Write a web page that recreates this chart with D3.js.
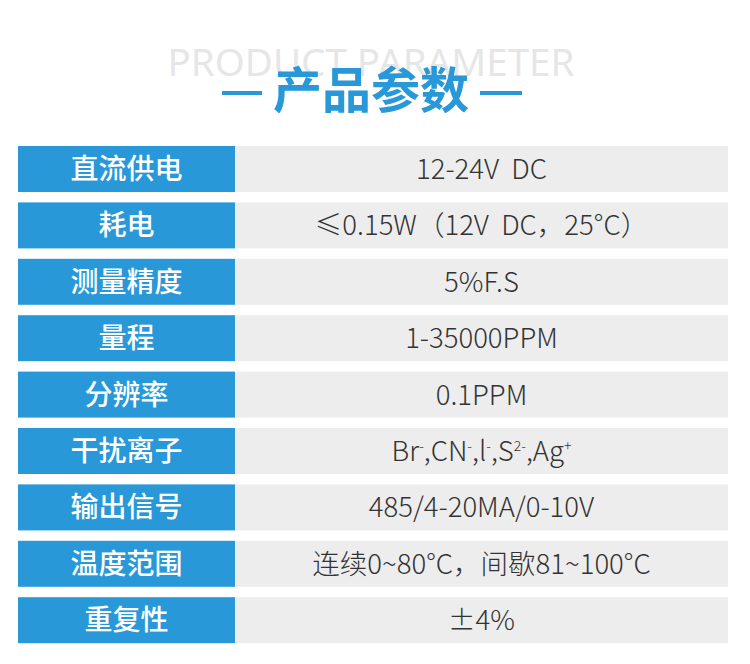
<!DOCTYPE html>
<html>
<head>
<meta charset="utf-8">
<script src="https://cdn.jsdelivr.net/npm/d3@7"></script>
<style>
  html, body { margin: 0; padding: 0; background: #fff; }
  svg { display: block; }
</style>
</head>
<body>
<script>
// table content, one entry per row
const labels = ['直流供电', '耗电', '测量精度', '量程', '分辨率', '干扰离子', '输出信号', '温度范围', '重复性']
const values = [
  '12-24V  DC',
  '≤0.15W（12V  DC，25°C）',
  '5%F.S',
  '1-35000PPM',
  '0.1PPM',
  'Br-,CN-,I-,S2-,Ag+',
  '485/4-20MA/0-10V',
  '连续0~80°C，间歇81~100°C',
  '±4%'
]
// superscript pieces for the interfering ion row
const ions = [['Br', '-'], ['CN', '-'], ['l', '-'], ['S', '2-'], ['Ag', '+']]

const width = 750
const height = 664
const blue = '#2898d8'
const grey = '#ededed'

const svg = d3.select('body')
  .append('svg')
  .attr('width', width)
  .attr('height', height)

// heading
svg.append('text')
  .attr('x', 371)
  .attr('y', 76)
  .attr('text-anchor', 'middle')
  .style('font-family', '"Noto Sans", "Open Sans", sans-serif')
  .style('font-size', '38.5px')
  .style('fill', '#e6e6e6')
  .text('PRODUCT PARAMETER')

svg.append('text')
  .attr('x', 371)
  .attr('y', 108)
  .attr('text-anchor', 'middle')
  .style('font-family', '"Noto Sans CJK SC", sans-serif')
  .style('font-weight', 'bold')
  .style('font-size', '49px')
  .style('fill', blue)
  .text('产品参数')

svg.selectAll('.dash')
  .data([[222, 262], [480, 522]])
  .enter()
  .append('rect')
  .attr('class', 'dash')
  .attr('x', d => d[0])
  .attr('y', 91)
  .attr('width', d => d[1] - d[0])
  .attr('height', 4)
  .attr('fill', blue)

// rows
const y = d3.scaleBand()
  .domain(labels)
  .range([146, 643.2])
  .paddingInner(10.4 / 56.4)
  .paddingOuter(0)

const x = d3.scaleOrdinal()
  .domain(['label', 'value'])
  .range([18, 235])
const right = 728

const rows = svg.selectAll('.row')
  .data(labels.map((l, i) => ({ label: l, value: values[i], i: i })))
  .enter()
  .append('g')
  .attr('class', 'row')
  .attr('transform', d => 'translate(0,' + y(d.label) + ')')

rows.append('rect')
  .attr('x', x('label'))
  .attr('width', x('value') - x('label'))
  .attr('height', y.bandwidth())
  .attr('fill', blue)

rows.append('rect')
  .attr('x', x('value'))
  .attr('width', right - x('value'))
  .attr('height', y.bandwidth())
  .attr('fill', grey)

rows.append('text')
  .attr('x', (x('label') + x('value')) / 2)
  .attr('y', 33)
  .attr('text-anchor', 'middle')
  .style('font-family', '"Noto Sans CJK SC", sans-serif')
  .style('font-weight', '500')
  .style('font-size', '28px')
  .style('fill', '#fff')
  .text(d => d.label)

const vt = rows.append('text')
  .attr('x', (x('value') + right) / 2)
  .attr('y', 33)
  .attr('text-anchor', 'middle')
  .style('font-family', '"Noto Sans CJK SC", sans-serif')
  .style('font-weight', '300')
  .style('font-size', '27.5px')
  .style('fill', '#333')
  .style('white-space', 'pre')

vt.each(function (d) {
  const t = d3.select(this)
  if (d.label !== '干扰离子') {
    t.text(d.value)
    return
  }
  ions.forEach((p, k) => {
    t.append('tspan')
      .attr('dy', k ? 10 : 0)
      .text((k ? ',' : '') + p[0])
    t.append('tspan')
      .attr('dy', -10)
      .style('font-size', '14px')
      .text(p[1])
  })
})
</script>
</body>
</html>
